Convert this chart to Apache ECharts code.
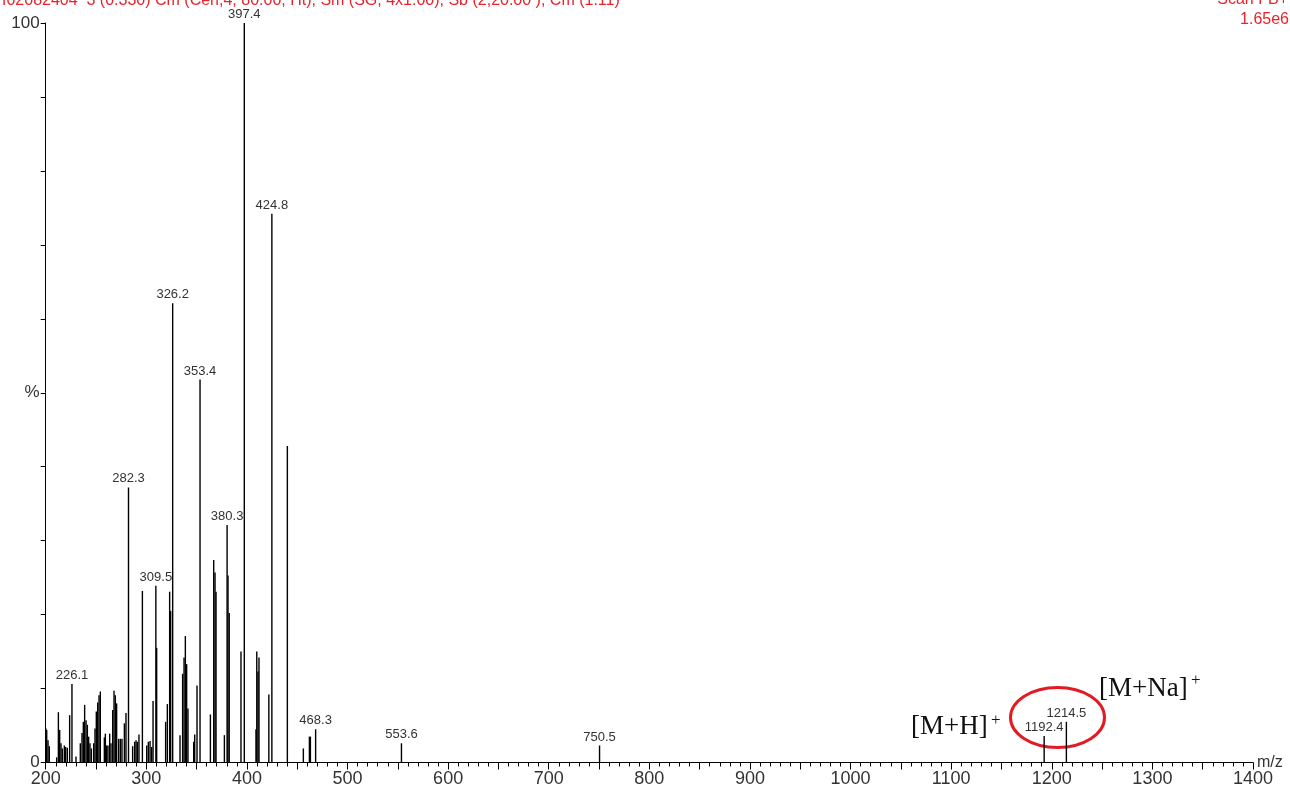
<!DOCTYPE html>
<html>
<head>
<meta charset="utf-8">
<script src="https://cdn.jsdelivr.net/npm/echarts@6/dist/echarts.min.js"></script>
<style>
html,body{margin:0;padding:0;background:#fff;}
#chart{width:1290px;height:790px;}
</style>
</head>
<body>
<div id="chart"></div>
<script>
// ---- data (m/z, relative intensity %) ----
const mz = [
  200.2,201.0,202.3,203.6,210.9,212.6,213.9,215.2,216.5,218.5,219.8,221.5,223.8,226.1,
  230.1,234.4,236.1,237.4,238.7,240.1,241.4,242.7,244.0,245.4,247.7,249.0,250.3,251.7,253.0,254.3,
  258.3,259.3,260.6,261.9,263.6,264.9,266.6,267.9,269.2,270.5,272.5,274.2,275.8,278.2,279.8,282.3,
  286.4,288.4,289.8,291.1,292.7,296.1,300.4,302.0,303.7,305.3,306.7,309.5,310.3,
  319.2,320.9,323.2,324.2,326.2,333.5,336.1,337.5,338.8,340.1,341.4,347.1,348.1,350.4,353.4,
  363.7,367.0,368.3,369.3,377.6,380.3,381.2,382.4,394.1,397.4,
  409.0,409.8,411.0,412.0,421.8,424.8,440.2,456.1,462.1,463.1,468.3,
  553.6,750.5,1192.4,1214.5
];
const intensity = [
  4.6,4.4,3.0,2.2,0.7,6.8,4.4,2.6,1.9,2.3,2.1,2.0,6.4,10.6,
  0.8,2.6,4.0,5.5,7.8,5.7,5.1,3.5,2.6,1.9,2.6,4.6,6.9,8.1,9.1,9.6,
  3.4,3.9,2.3,2.3,3.9,2.6,7.1,9.7,9.1,8.0,3.2,3.2,3.2,5.3,6.7,37.2,
  2.2,2.8,3.0,2.8,3.8,23.2,2.3,2.8,2.9,2.1,8.3,23.9,15.5,
  5.5,7.9,23.1,20.5,62.1,3.7,12.0,14.2,17.1,13.3,7.3,2.8,3.8,10.4,51.8,
  6.5,27.4,25.7,23.1,3.7,32.1,25.3,20.2,15.0,100,
  4.5,15.0,12.3,14.2,9.2,74.2,42.8,1.9,3.5,3.5,4.5,
  2.6,2.3,3.6,5.5
];
const labeledPeaks = ['226.1','282.3','309.5','326.2','353.4','380.3','397.4','424.8','468.3','553.6','750.5','1192.4','1214.5'];
const xTickLabels = ['200','300','400','500','600','700','800','900','1000','1100','1200','1300','1400'];
const yTickLabels = {0:'0',50:'%',100:'100'};
const headerText = 'f02082404  3 (0.330) Cm (Cen,4, 80.00, Ht); Sm (SG, 4x1.00); Sb (2,20.00 ); Cm (1:11)';
const scanText = 'Scan FB+';
const tic = '1.65e6';

const seriesData = mz.map((m, i) => [m, intensity[i]]);
const labelSet = new Set(labeledPeaks);

const chart = echarts.init(document.getElementById('chart'), null, {renderer: 'canvas'});
const FONT = '"Liberation Sans", Arial, sans-serif';
const SERIF = '"Liberation Serif", "Times New Roman", serif';
const RED = '#e8232b';

chart.setOption({
  backgroundColor: '#fff',
  animation: false,
  grid: {left: 45.7, right: 37, top: 23, bottom: 27.5, containLabel: false},
  xAxis: {
    type: 'value', min: 200, max: 1400, interval: 50,
    name: 'm/z', nameLocation: 'end', nameGap: 4,
    nameTextStyle: {fontFamily: FONT, fontSize: 16, color: '#333', padding: [0, 0, 4, 0]},
    axisLine: {show: true, lineStyle: {color: '#000', width: 1}},
    axisTick: {show: true, inside: false, length: 7, lineStyle: {color: '#000'}},
    minorTick: {show: true, splitNumber: 5, length: 4, lineStyle: {color: '#000'}},
    splitLine: {show: false},
    axisLabel: {
      fontFamily: FONT, fontSize: 18, color: '#333', margin: 8,
      formatter: v => xTickLabels.indexOf(String(v)) >= 0 ? String(v) : ''
    }
  },
  yAxis: {
    type: 'value', min: 0, max: 100, interval: 10,
    axisLine: {show: true, lineStyle: {color: '#000', width: 1}},
    axisTick: {show: true, inside: false, length: 5, lineStyle: {color: '#000'}},
    splitLine: {show: false},
    axisLabel: {
      fontFamily: FONT, fontSize: 17, color: '#333', margin: 6,
      formatter: v => (yTickLabels[v] !== undefined ? yTickLabels[v] : '')
    }
  },
  series: [{
    type: 'custom',
    data: seriesData,
    clip: false,
    renderItem: (params, api) => {
      const m = api.value(0), h = api.value(1);
      const top = api.coord([m, h]);
      const base = api.coord([m, 0]);
      const children = [{
        type: 'line',
        shape: {x1: top[0], y1: top[1], x2: base[0], y2: base[1]},
        style: {stroke: '#000', lineWidth: 1.4}
      }];
      const lab = String(mz[params.dataIndex]);
      if (labelSet.has(lab)) {
        children.push({
          type: 'text',
          style: {
            text: lab, x: top[0], y: top[1] - 2,
            align: 'center', verticalAlign: 'bottom',
            fill: '#333', font: '13px ' + FONT
          }
        });
      }
      return {type: 'group', children};
    }
  }],
  graphic: [
    {type: 'text', left: 2, top: -7.5, style: {text: headerText, fill: RED, font: '16px ' + FONT}},
    {type: 'text', right: 2, top: -8, style: {text: scanText, fill: RED, font: '16px ' + FONT}},
    {type: 'text', right: 1, top: 12, style: {text: tic, fill: RED, font: '16px ' + FONT}},
    {type: 'ellipse', shape: {cx: 1057.5, cy: 717.5, rx: 47, ry: 30},
      style: {fill: 'none', stroke: '#e21b23', lineWidth: 3}},
    {type: 'text', x: 1099, y: 675, style: {text: '[M+Na]', fill: '#111', font: '27px ' + SERIF, verticalAlign: 'top'}},
    {type: 'text', x: 1191, y: 672, style: {text: '+', fill: '#111', font: '17px ' + SERIF, verticalAlign: 'top'}},
    {type: 'text', x: 911, y: 713, style: {text: '[M+H]', fill: '#111', font: '27px ' + SERIF, verticalAlign: 'top'}},
    {type: 'text', x: 991, y: 712, style: {text: '+', fill: '#111', font: '17px ' + SERIF, verticalAlign: 'top'}}
  ]
});
</script>
</body>
</html>
